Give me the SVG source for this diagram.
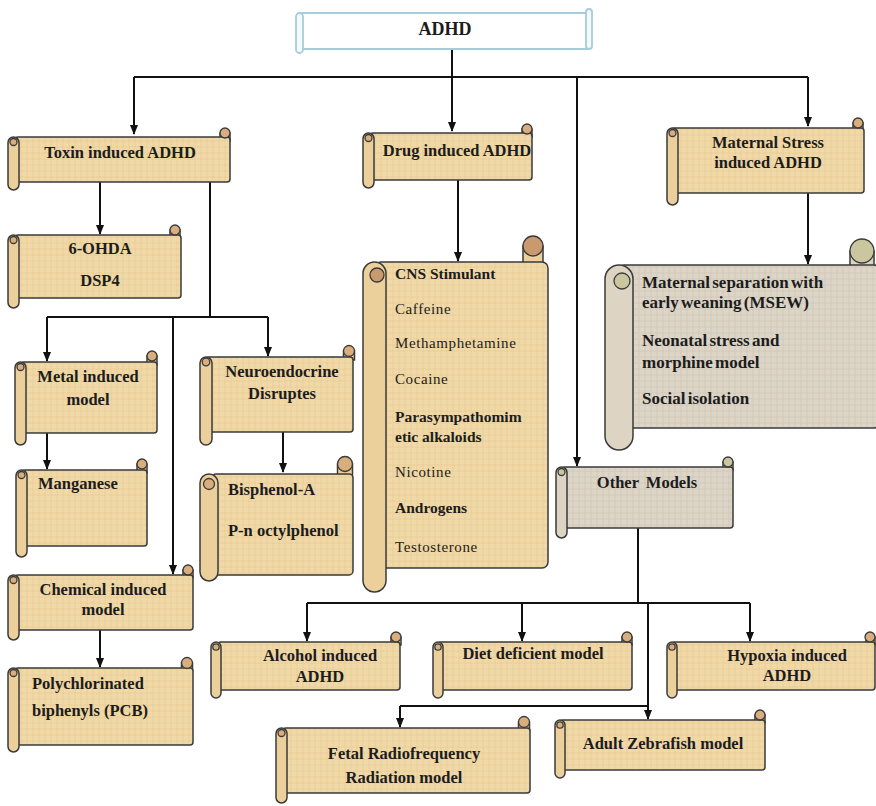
<svg xmlns="http://www.w3.org/2000/svg" width="876" height="806" viewBox="0 0 876 806" font-family="'Liberation Serif', 'Times New Roman', 'DejaVu Serif', serif">
<style>
.body{fill:url(#parch);stroke:#3a3a3a;stroke-width:1.5}
.roll{fill:#ecd09c;stroke:#3a3a3a;stroke-width:1.5}
.curl{fill:#d9ad7c;stroke:#3a3a3a;stroke-width:1.3}
.gbody{fill:url(#grey);stroke:#3a3a3a;stroke-width:1.5}
.groll{fill:#ddd4c3;stroke:#3a3a3a;stroke-width:1.5}
.gcurl{fill:#c9c6a0;stroke:#3a3a3a;stroke-width:1.3}
.bcurl{fill:#c99a6e;stroke:#3a3a3a;stroke-width:1.3}
.wbody{fill:#ffffff;stroke:#a6cbdb;stroke-width:2}
.wroll{fill:#f4f9fb;stroke:#a6cbdb;stroke-width:1.8}
text{font-family:'Liberation Serif','Times New Roman','DejaVu Serif',serif;fill:#1c1c1c}
.t{font-size:16.5px;font-weight:bold}
.tc{text-anchor:middle}
.r{font-size:15px;letter-spacing:0.6px}
.b{font-size:15.5px;font-weight:bold}
.m{font-size:17px;font-weight:bold;word-spacing:-2px}
.ln{fill:none;stroke:#111;stroke-width:2}
.la{fill:none;stroke:#111;stroke-width:2;marker-end:url(#ah)}
</style>
<defs>
<pattern id="parch" patternUnits="userSpaceOnUse" width="6" height="6">
<rect width="6" height="6" fill="#f1d9a7"/>
<path d="M0 3H6M3 0V6" stroke="#e6cb95" stroke-width="0.8"/>
</pattern>
<pattern id="grey" patternUnits="userSpaceOnUse" width="6" height="6">
<rect width="6" height="6" fill="#ddd6c8"/>
<path d="M0 3H6M3 0V6" stroke="#cfc7b6" stroke-width="0.8"/>
</pattern>
<marker id="ah" markerWidth="10" markerHeight="10" refX="9" refY="5" orient="auto" markerUnits="userSpaceOnUse">
<path d="M0,1 L10,5 L0,9 Z" fill="#111"/>
</marker>
</defs>
<rect width="876" height="806" fill="#ffffff"/>

<g id="connectors">
<path class="ln" d="M452,50 V77 M134,77 H808"/>
<path class="la" d="M134,77 V134"/>
<path class="la" d="M452,77 V131"/>
<path class="la" d="M577,77 V466"/>
<path class="la" d="M808,77 V126"/>
<path class="la" d="M100,182 V234"/>
<path class="ln" d="M210,182 V317 M47,317 H268"/>
<path class="la" d="M47,317 V361"/>
<path class="la" d="M268,317 V356"/>
<path class="la" d="M173,317 V574"/>
<path class="la" d="M47,433 V469"/>
<path class="la" d="M283,432 V472"/>
<path class="la" d="M100,630 V667"/>
<path class="la" d="M458,180 V261"/>
<path class="la" d="M808,193 V264"/>
<path class="ln" d="M638,528 V603 M307,603 H750 M648,706 H400"/>
<path class="la" d="M307,603 V641"/>
<path class="la" d="M522,603 V641"/>
<path class="la" d="M750,603 V641"/>
<path class="la" d="M648,603 V719"/>
<path class="la" d="M400,706 V727"/>
</g>

<g id="adhd">
<rect class="wbody" x="300" y="13" width="290" height="36" rx="3"/>
<rect class="wroll" x="296" y="13" width="7" height="40" rx="3.5"/>
<rect class="wroll" x="586" y="9" width="6" height="40" rx="3"/>
<text class="t tc" x="445" y="35" style="font-size:18px">ADHD</text>
</g>

<g id="toxin">
<rect class="roll" x="220" y="133" width="10" height="8"/>
<rect class="body" x="15" y="137" width="215" height="45" rx="3"/>
<rect class="roll" x="8" y="137" width="11" height="53" rx="5.5"/>
<circle class="curl" cx="13.5" cy="142" r="3.5"/>
<circle class="curl" cx="225" cy="133" r="5"/>
<text class="t tc" x="120" y="158">Toxin induced ADHD</text>
</g>

<g id="drug">
<rect class="roll" x="522" y="129" width="10" height="8"/>
<rect class="body" x="370" y="133" width="162" height="47" rx="3"/>
<rect class="roll" x="363" y="133" width="11" height="55" rx="5.5"/>
<circle class="curl" cx="368.5" cy="138" r="3.5"/>
<circle class="curl" cx="527" cy="129" r="5"/>
<text class="t tc" x="457" y="156">Drug induced ADHD</text>
</g>

<g id="maternal">
<rect class="roll" x="853" y="123" width="10" height="8"/>
<rect class="body" x="672" y="128" width="192" height="65" rx="3"/>
<rect class="roll" x="667" y="128" width="11" height="77" rx="5.5"/>
<circle class="curl" cx="672.5" cy="133" r="3.5"/>
<circle class="curl" cx="858" cy="123" r="5"/>
<text class="t tc" x="768" y="148">Maternal Stress</text>
<text class="t tc" x="768" y="168">induced ADHD</text>
</g>

<g id="ohda">
<rect class="roll" x="170" y="230" width="10" height="8"/>
<rect class="body" x="15" y="235" width="166" height="63" rx="3"/>
<rect class="roll" x="8" y="235" width="11" height="73" rx="5.5"/>
<circle class="curl" cx="13.5" cy="240" r="3.5"/>
<circle class="curl" cx="175" cy="230" r="5"/>
<text class="t tc" x="100" y="254">6-OHDA</text>
<text class="t tc" x="100" y="286">DSP4</text>
</g>

<g id="metal">
<rect class="roll" x="147" y="356" width="10" height="9"/>
<rect class="body" x="21" y="362" width="136" height="71" rx="3"/>
<rect class="roll" x="15" y="362" width="11" height="83" rx="5.5"/>
<circle class="curl" cx="20.5" cy="367" r="3.5"/>
<circle class="curl" cx="152" cy="356" r="5"/>
<text class="t tc" x="88" y="382">Metal induced</text>
<text class="t tc" x="88" y="405">model</text>
</g>

<g id="neuro">
<rect class="roll" x="343.5" y="351" width="11" height="9"/>
<rect class="body" x="206" y="357" width="147" height="75" rx="3"/>
<rect class="roll" x="200" y="357" width="12" height="88" rx="6"/>
<circle class="curl" cx="206" cy="362" r="3.8"/>
<circle class="curl" cx="349" cy="351" r="5.5"/>
<text class="t tc" x="282" y="377">Neuroendocrine</text>
<text class="t tc" x="282" y="399">Disruptes</text>
</g>

<g id="manganese">
<rect class="roll" x="137" y="464" width="10" height="9"/>
<rect class="body" x="22" y="470" width="125" height="76" rx="3"/>
<rect class="roll" x="16" y="470" width="11" height="87" rx="5.5"/>
<circle class="curl" cx="21.5" cy="475" r="3.5"/>
<circle class="curl" cx="142" cy="464" r="5"/>
<text class="t" x="38" y="489">Manganese</text>
</g>

<g id="bisphenol">
<rect class="roll" x="337.5" y="464" width="15" height="13"/>
<rect class="body" x="212" y="474" width="141" height="101" rx="4"/>
<circle class="curl" cx="345" cy="464" r="7.5"/>
<rect class="roll" x="200" y="474" width="18" height="107" rx="9"/>
<circle class="curl" cx="209" cy="484" r="5.5"/>
<text class="t" x="228" y="495">Bisphenol-A</text>
<text class="t" x="228" y="536">P-n octylphenol</text>
</g>

<g id="chemical">
<rect class="roll" x="183" y="570" width="10" height="8"/>
<rect class="body" x="15" y="575" width="178" height="55" rx="3"/>
<rect class="roll" x="8" y="575" width="11" height="65" rx="5.5"/>
<circle class="curl" cx="13.5" cy="580" r="3.5"/>
<circle class="curl" cx="188" cy="570" r="5"/>
<text class="t tc" x="103" y="595">Chemical induced</text>
<text class="t tc" x="103" y="615">model</text>
</g>

<g id="pcb">
<rect class="roll" x="181.5" y="663" width="11" height="8"/>
<rect class="body" x="15" y="668" width="178" height="77" rx="3"/>
<rect class="roll" x="8" y="668" width="11" height="84" rx="5.5"/>
<circle class="curl" cx="13.5" cy="673" r="3.5"/>
<circle class="curl" cx="187" cy="663" r="5.5"/>
<text class="t" x="32" y="689">Polychlorinated</text>
<text class="t" x="32" y="716">biphenyls (PCB)</text>
</g>

<g id="cns">
<rect class="roll" x="523" y="246" width="20" height="19"/>
<rect class="body" x="375" y="262" width="173" height="306" rx="6"/>
<circle class="bcurl" cx="533" cy="246" r="10"/>
<rect class="roll" x="363" y="262" width="23" height="330" rx="11.5"/>
<circle class="bcurl" cx="377" cy="275" r="7"/>
<text class="b" x="395" y="279">CNS Stimulant</text>
<text class="r" x="395" y="314">Caffeine</text>
<text class="r" x="395" y="348">Methamphetamine</text>
<text class="r" x="395" y="384">Cocaine</text>
<text class="b" x="395" y="422">Parasympathomim</text>
<text class="b" x="395" y="442">etic alkaloids</text>
<text class="r" x="395" y="477">Nicotine</text>
<text class="b" x="395" y="513">Androgens</text>
<text class="r" x="395" y="552">Testosterone</text>
</g>

<g id="maternal-models">
<rect class="groll" x="850" y="251" width="24" height="17"/>
<rect class="gbody" x="618" y="265" width="262" height="163" rx="6"/>
<circle class="gcurl" cx="862" cy="251" r="12"/>
<rect class="groll" x="605" y="265" width="28" height="185" rx="14"/>
<circle class="gcurl" cx="622" cy="281" r="8"/>
<text class="m" x="642" y="288">Maternal separation with</text>
<text class="m" x="642" y="308">early weaning (MSEW)</text>
<text class="m" x="642" y="346">Neonatal stress and</text>
<text class="m" x="642" y="368">morphine model</text>
<text class="m" x="642" y="404">Social isolation</text>
</g>

<g id="other">
<rect class="groll" x="723" y="462" width="10" height="8"/>
<rect class="gbody" x="562" y="467" width="171" height="61" rx="3"/>
<rect class="groll" x="556" y="467" width="11" height="71" rx="5.5"/>
<circle class="gcurl" cx="561.5" cy="472" r="3.5"/>
<circle class="gcurl" cx="728" cy="462" r="5"/>
<text class="t tc" x="647" y="488" style="word-spacing:3px">Other Models</text>
</g>

<g id="alcohol">
<rect class="roll" x="391" y="637" width="10" height="8"/>
<rect class="body" x="218" y="642" width="182" height="48" rx="3"/>
<rect class="roll" x="211" y="642" width="10" height="56" rx="5"/>
<circle class="curl" cx="216" cy="647" r="3.2"/>
<circle class="curl" cx="396" cy="637" r="5"/>
<text class="t tc" x="320" y="661">Alcohol induced</text>
<text class="t tc" x="320" y="682">ADHD</text>
</g>

<g id="diet">
<rect class="roll" x="622" y="637" width="10" height="8"/>
<rect class="body" x="438" y="642" width="194" height="48" rx="3"/>
<rect class="roll" x="433" y="642" width="10" height="56" rx="5"/>
<circle class="curl" cx="438" cy="647" r="3.2"/>
<circle class="curl" cx="627" cy="637" r="5"/>
<text class="t tc" x="533" y="659">Diet deficient model</text>
</g>

<g id="hypoxia">
<rect class="roll" x="866" y="637" width="9" height="8"/>
<rect class="body" x="672" y="642" width="203" height="48" rx="3"/>
<rect class="roll" x="667" y="642" width="10" height="56" rx="5"/>
<circle class="curl" cx="672" cy="647" r="3.2"/>
<circle class="curl" cx="870" cy="637" r="5"/>
<text class="t tc" x="787" y="661">Hypoxia induced</text>
<text class="t tc" x="787" y="681">ADHD</text>
</g>

<g id="fetal">
<rect class="roll" x="518.5" y="722" width="11" height="9"/>
<rect class="body" x="283" y="728" width="247" height="65" rx="3"/>
<rect class="roll" x="276" y="728" width="11" height="75" rx="5.5"/>
<circle class="curl" cx="281.5" cy="733" r="3.5"/>
<circle class="curl" cx="524" cy="722" r="5.5"/>
<text class="t tc" x="404" y="759">Fetal Radiofrequency</text>
<text class="t tc" x="404" y="783">Radiation model</text>
</g>

<g id="zebrafish">
<rect class="roll" x="755" y="715" width="10" height="8"/>
<rect class="body" x="560" y="720" width="205" height="50" rx="3"/>
<rect class="roll" x="555" y="720" width="10" height="58" rx="5"/>
<circle class="curl" cx="560" cy="725" r="3.2"/>
<circle class="curl" cx="760" cy="715" r="5"/>
<text class="t tc" x="663" y="749">Adult Zebrafish model</text>
</g>
</svg>
